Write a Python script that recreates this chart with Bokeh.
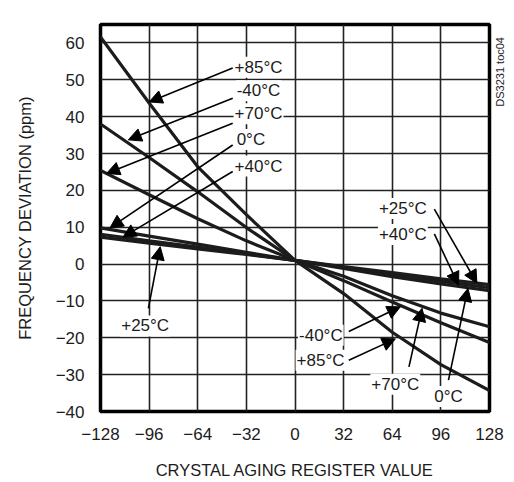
import math
from bokeh.plotting import figure
from bokeh.layouts import row
from bokeh.models import Label, Arrow, NormalHead, FixedTicker, Range1d
from bokeh.embed import file_html
from bokeh.resources import INLINE

# ---- data ----
x_vals = [-128, -96, -64, -32, 0, 32, 64, 96, 128]
p85 = [61.6, 43.7, 26.4, 13.4, 1.0, -8.0, -18.5, -27.3, -34.3]
m40 = [38.0, 28.9, 19.6, 9.9, 1.0, -4.5, -10.3, -15.9, -21.3]
p70 = [25.4, 18.8, 12.3, 6.3, 1.0, -3.3, -8.6, -13.3, -17.0]
c0 = [9.8, 7.6, 5.4, 3.2, 1.0, -1.2, -3.4, -5.4, -7.2]
p40 = [8.1, 6.3, 4.6, 2.8, 1.0, -0.9, -2.8, -4.7, -6.4]
p25 = [7.3, 5.7, 4.1, 2.6, 1.0, -0.7, -2.3, -4.0, -5.6]
x_ticks = [-128, -96, -64, -32, 0, 32, 64, 96, 128]
y_ticks = [-40, -30, -20, -10, 0, 10, 20, 30, 40, 50, 60]

# annotations: (text, label x, label y, arrow start x, start y, tip x, tip y)
callouts = [
    ("+85°C", -24, 53.4, -41, 53.2, -96, 44.0),
    ("-40°C", -24, 47.0, -41, 45.0, -109.7, 33.7),
    ("+70°C", -24, 40.8, -41, 38.2, -124, 24.6),
    ("0°C", -29, 33.8, -41, 32.3, -121.8, 9.8),
    ("+40°C", -24, 26.6, -41, 25.1, -113.2, 7.3),
    ("+25°C", -98.6, -16.8, -96.5, -12.0, -88.7, 4.7),
    ("+25°C", 71, 15.1, 91.7, 14.9, 119.7, -5.2),
    ("+40°C", 71, 8.0, 91.7, 8.2, 107.6, -5.7),
    ("-40°C", 17, -19.3, 35.4, -18.3, 69.3, -11.6),
    ("+85°C", 16.8, -26.1, 35.4, -26.1, 66, -20.3),
    ("+70°C", 66, -32.6, 75, -27.9, 83.6, -12.0),
    ("0°C", 101, -35.9, 101, -31.5, 113.8, -6.6),
]
tag_text = "DS3231 toc04"

FONT = "Liberation Sans"
INK = "#1c1c1c"

p = figure(width=506, height=482, output_backend="svg", toolbar_location=None,
           x_range=Range1d(-128, 128), y_range=Range1d(-40, 65),
           min_border_left=100, min_border_right=17, min_border_top=24,
           min_border_bottom=71)

p.outline_line_color = "black"
p.outline_line_width = 3.5
p.background_fill_color = "white"

for ax in (p.xaxis[0], p.yaxis[0]):
    ax.axis_line_color = None
    ax.major_tick_line_color = None
    ax.minor_tick_line_color = None
    ax.major_tick_out = 0
    ax.major_tick_in = 0
    ax.major_label_text_font = FONT
    ax.major_label_text_font_size = "17px"
    ax.major_label_text_color = INK
    ax.axis_label_text_font = FONT
    ax.axis_label_text_font_size = "16.5px"
    ax.axis_label_text_font_style = "normal"
    ax.axis_label_text_color = INK

p.xaxis.ticker = FixedTicker(ticks=x_ticks)
p.yaxis.ticker = FixedTicker(ticks=y_ticks)
p.xaxis.axis_label = "CRYSTAL AGING REGISTER VALUE"
p.yaxis.axis_label = "FREQUENCY DEVIATION (ppm)"
p.xaxis.major_label_standoff = 16
p.yaxis.major_label_standoff = 16
p.xaxis.axis_label_standoff = 18
p.yaxis.axis_label_standoff = 19

p.xgrid.ticker = FixedTicker(ticks=x_ticks)
p.ygrid.ticker = FixedTicker(ticks=y_ticks)
for g in (p.xgrid[0], p.ygrid[0]):
    g.grid_line_color = "#222222"
    g.grid_line_width = 1.6

for series in (p85, m40, p70, c0, p40, p25):
    p.line(x_vals, series, line_color=INK, line_width=3.2)

for (txt, lx, ly, sx, sy, tx, ty) in callouts:
    p.add_layout(Arrow(x_start=sx, y_start=sy, x_end=tx, y_end=ty,
                       line_color="black", line_width=1.6,
                       end=NormalHead(size=13, fill_color="black",
                                      line_color="black")))
for (txt, lx, ly, sx, sy, tx, ty) in callouts:
    p.add_layout(Label(x=lx, y=ly, text=txt, text_align="center",
                       text_baseline="middle", text_font=FONT,
                       text_font_size="17px", text_color=INK,
                       background_fill_color="white", padding=1))

# transparent panel laid over the right border, carrying the tag
side = figure(width=14, height=482, output_backend="svg", toolbar_location=None,
              x_range=Range1d(0, 14), y_range=Range1d(0, 482),
              min_border_left=0, min_border_right=0, min_border_top=0,
              min_border_bottom=0, x_axis_location=None, y_axis_location=None,
              margin=(0, 0, 0, -14))
side.outline_line_color = None
side.border_fill_color = None
side.background_fill_color = None
side.xgrid.visible = False
side.ygrid.visible = False
side.add_layout(Label(x=7, y=423, text=tag_text, angle=math.pi / 2,
                      text_align="center", text_baseline="middle",
                      text_font=FONT, text_font_size="11px", text_color=INK))

layout = row(p, side, spacing=0)
open("out.html", "w").write(file_html(layout, INLINE))
